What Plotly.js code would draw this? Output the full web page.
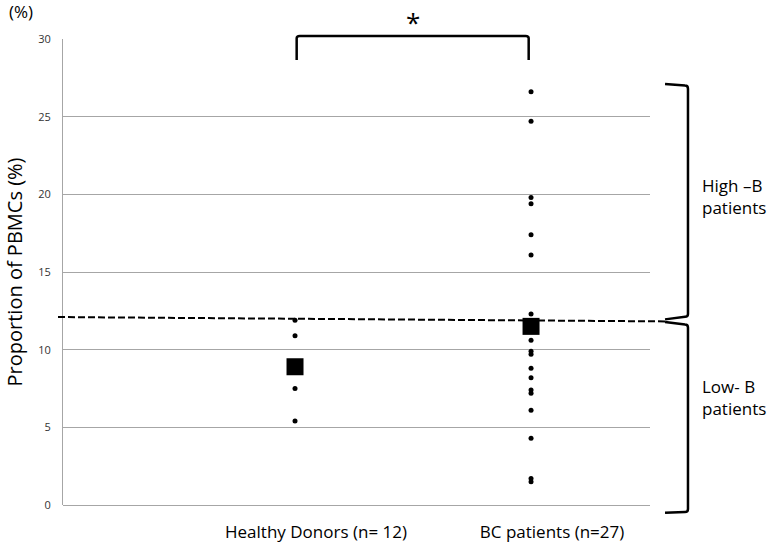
<!DOCTYPE html>
<html>
<head>
<meta charset="utf-8">
<script src="https://cdn.plot.ly/plotly-3.0.1.min.js"></script>
<style>
  body { margin: 0; background: #fff; }
  #chart { width: 767px; height: 550px; }
</style>
</head>
<body>
<div id="chart"></div>
<script>
// groups on the x axis
var groups = ["Healthy Donors (n= 12)", "BC patients (n=27)"];
var groupPos = [1, 2];

// single values (overlapping dots are not all visible)
var healthyVals = [11.9, 10.9, 7.5, 5.4];
var bcVals = [26.6, 24.7, 19.8, 19.4, 17.4, 16.1, 12.3, 10.6, 9.9, 9.7, 8.8, 8.2, 7.4, 7.2, 6.1, 4.3, 1.7, 1.5];

// group means (big squares)
var meanVals = [8.9, 11.5];

// cut off between high and low B patients (dashed line, slightly tilted)
var cutLeft = 12.1;
var cutRight = 11.82;

var yTicks = [0, 5, 10, 15, 20, 25, 30];
var yMax = 30;

var font = "Open Sans, Liberation Sans, sans-serif";

// value -> paper y, so brackets outside the plot are not clipped
function py(v) { return v / yMax; }

var dots = {
    x: healthyVals.map(function () { return groupPos[0]; })
        .concat(bcVals.map(function () { return groupPos[1]; })),
    y: healthyVals.concat(bcVals),
    type: 'scatter',
    mode: 'markers',
    marker: { color: '#000', size: 5 },
    hoverinfo: 'skip',
    cliponaxis: false
};

var means = {
    x: groupPos,
    y: meanVals,
    type: 'scatter',
    mode: 'markers',
    marker: { color: '#000', size: 17, symbol: 'square' },
    hoverinfo: 'skip',
    cliponaxis: false
};

// x in paper coords for the right brackets
var bx0 = 1.0256, bx1 = 1.0647, bxc = bx1 - 0.005;

var topBracket = 'M 1.007 ' + py(28.65) + ' L 1.007 ' + py(30.05) + ' Q 1.007 ' + py(30.2) + ' 1.02 ' + py(30.2) +
    ' L 1.977 ' + py(30.2) + ' Q 1.99 ' + py(30.2) + ' 1.99 ' + py(30.05) + ' L 1.99 ' + py(28.65);

var highBracket = 'M ' + bx0 + ' ' + py(27.1) + ' L ' + bxc + ' ' + py(27.0) + ' Q ' + bx1 + ' ' + py(27.0) + ' ' + bx1 + ' ' + py(26.8) +
    ' L ' + bx1 + ' ' + py(12.3) + ' Q ' + bx1 + ' ' + py(12.12) + ' ' + bxc + ' ' + py(12.12) + ' L ' + bx0 + ' ' + py(11.95);

var lowBracket = 'M ' + bx0 + ' ' + py(11.78) + ' L ' + bxc + ' ' + py(11.62) + ' Q ' + bx1 + ' ' + py(11.62) + ' ' + bx1 + ' ' + py(11.42) +
    ' L ' + bx1 + ' ' + py(-0.25) + ' Q ' + bx1 + ' ' + py(-0.45) + ' ' + bxc + ' ' + py(-0.45) + ' L ' + bx0 + ' ' + py(-0.5);

var layout = {
    width: 767,
    height: 550,
    margin: { l: 63, r: 117, t: 39, b: 45 },
    paper_bgcolor: '#fff',
    plot_bgcolor: '#fff',
    showlegend: false,
    font: { family: font, color: '#000' },
    xaxis: {
        range: [0.017, 2.504],
        tickvals: groupPos,
        ticktext: groups,
        ticks: 'outside',
        ticklen: 12,
        tickcolor: 'rgba(0,0,0,0)',
        ticklabelshift: 21,
        tickfont: { size: 17, color: '#000' },
        showgrid: false,
        zeroline: false,
        showline: false
    },
    yaxis: {
        range: [0, yMax],
        tickvals: yTicks,
        ticks: 'outside',
        ticklen: 9,
        tickcolor: 'rgba(0,0,0,0)',
        tickfont: { size: 11, color: '#333' },
        showgrid: true,
        gridcolor: '#a6a6a6',
        gridwidth: 1,
        zeroline: true,
        zerolinecolor: '#a6a6a6',
        zerolinewidth: 1,
        showline: true,
        linecolor: '#a6a6a6',
        linewidth: 1,
        title: { text: 'Proportion of PBMCs (%)', font: { size: 20, color: '#000' }, standoff: 10 }
    },
    shapes: [
        // dashed cut off line
        { type: 'line', xref: 'paper', yref: 'paper', x0: -0.0085, x1: bx0, y0: py(cutLeft), y1: py(cutRight),
          line: { color: '#000', width: 2, dash: '7px,3px' } },
        // significance bracket on top
        { type: 'path', xref: 'x', yref: 'paper', path: topBracket, line: { color: '#000', width: 2.5 } },
        // high B bracket
        { type: 'path', xref: 'paper', yref: 'paper', path: highBracket, line: { color: '#000', width: 2.5 } },
        // low B bracket
        { type: 'path', xref: 'paper', yref: 'paper', path: lowBracket, line: { color: '#000', width: 2.5 } }
    ],
    annotations: [
        { text: '(%)', xref: 'paper', yref: 'paper', x: -0.095, y: 1.058, xanchor: 'left', yanchor: 'middle',
          showarrow: false, font: { size: 17, color: '#000' } },
        { text: '*', xref: 'x', yref: 'paper', x: 1.5, y: 1.036, xanchor: 'center', yanchor: 'middle',
          showarrow: false, font: { size: 26, color: '#000' } },
        { text: 'High \u2013B<br>patients', xref: 'paper', yref: 'y', x: 1.085, y: 19.87, xanchor: 'left', yanchor: 'middle',
          align: 'left', showarrow: false, font: { size: 17, color: '#000' } },
        { text: 'Low- B<br>patients', xref: 'paper', yref: 'y', x: 1.085, y: 6.9, xanchor: 'left', yanchor: 'middle',
          align: 'left', showarrow: false, font: { size: 17, color: '#000' } }
    ]
};

Plotly.newPlot('chart', [dots, means], layout, { displayModeBar: false, staticPlot: true });
</script>
</body>
</html>
